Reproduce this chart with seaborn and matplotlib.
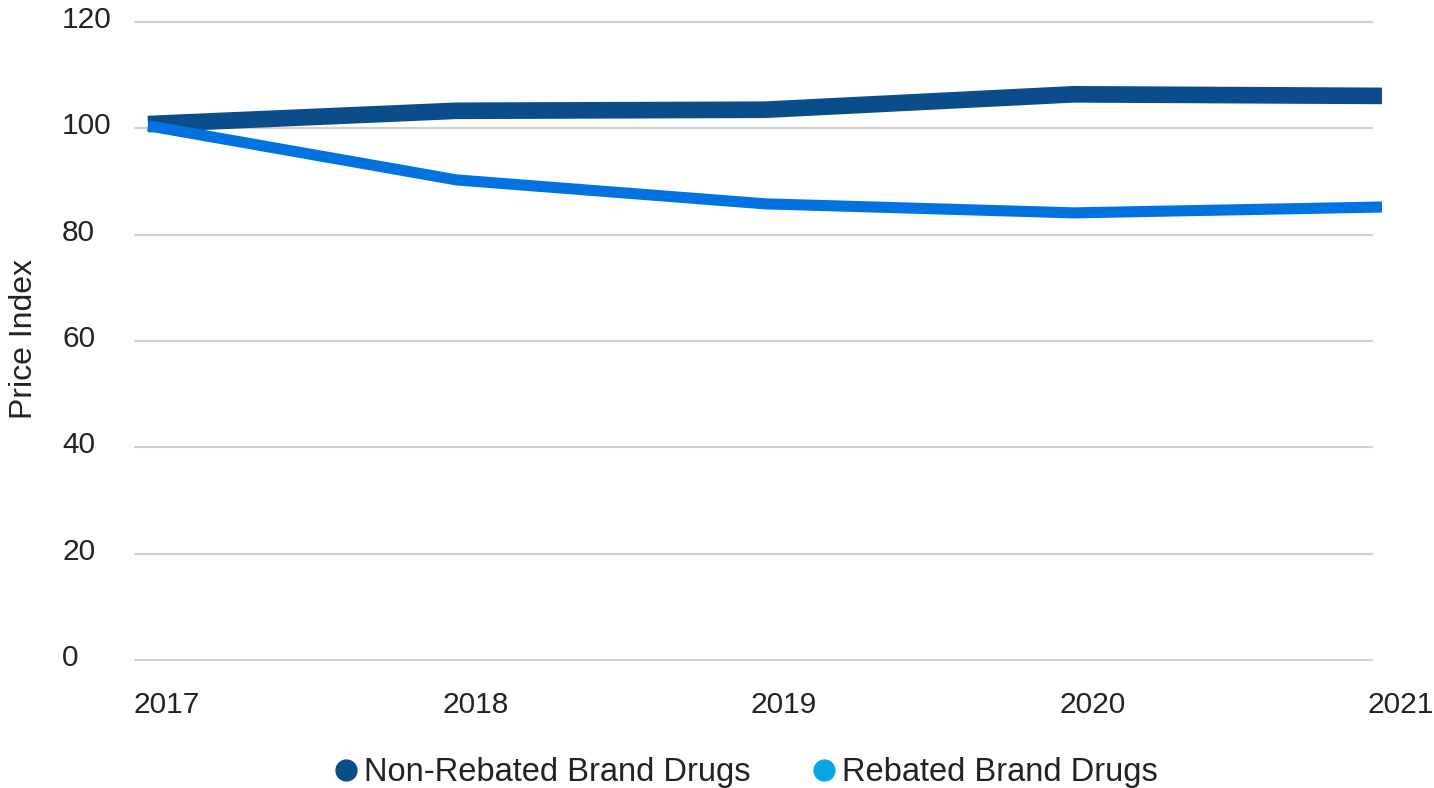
import matplotlib
matplotlib.use("Agg")
import matplotlib.pyplot as plt
import matplotlib.transforms as mtransforms
from matplotlib.lines import Line2D
import seaborn as sns
import pandas as pd

years = [2017, 2018, 2019, 2020, 2021]
non_rebated = [100.8, 103.3, 103.5, 106.4, 106.1]
rebated = [100.5, 90.3, 85.8, 84.1, 85.2]
y_ticks = [0, 20, 40, 60, 80, 100, 120]
series_names = ["Non-Rebated Brand Drugs", "Rebated Brand Drugs"]

line_colors = ["#0B4C8A", "#0073E0"]
legend_colors = ["#0B4C8A", "#0AA5E5"]

sns.set_style("white")
plt.rcParams["font.family"] = ["Liberation Sans", "DejaVu Sans"]

df = pd.DataFrame({
    "year": years * 2,
    "value": non_rebated + rebated,
    "series": [series_names[0]] * len(years) + [series_names[1]] * len(years),
})

fig = plt.figure(figsize=(14.34, 7.88), dpi=100)
W, H = 1434, 788
ax_left, ax_right, grid_right = 135, 1382, 1372
ax = fig.add_axes([ax_left / W, 1 - 660 / H, (ax_right - ax_left) / W, (660 - 22) / H])

widths = [12.0, 8.0]
for name, col, lw in zip(series_names, line_colors, widths):
    sns.lineplot(data=df[df["series"] == name], x="year", y="value", color=col,
                 linewidth=lw, ax=ax, legend=False,
                 solid_capstyle="butt", solid_joinstyle="round", zorder=3)

px_per_year = (1382 - 148) / 4
ax.set_xticks(years)
ax.set_xticklabels([str(y) for y in years])
ax.set_yticks(y_ticks)
ax.set_yticklabels([str(v) for v in y_ticks])
ax.set_xlim(2017 - 13 / px_per_year, 2021)
ax.set_ylim(0, 120)

for s in ax.spines.values():
    s.set_visible(False)
ax.grid(False)
grid_frac = (grid_right - ax_left) / (ax_right - ax_left)
for yv in y_ticks:
    ax.axhline(yv, xmin=0, xmax=grid_frac, color="#D0D0D0", linewidth=1.5, zorder=1, clip_on=False)

ax.tick_params(axis="y", length=0, pad=52.5, labelsize=21.5, labelcolor="#222222")
ax.tick_params(axis="x", length=0, pad=22.5, labelsize=21.5, labelcolor="#222222")
for lab in ax.get_yticklabels():
    lab.set_horizontalalignment("left")
    lab.set_transform(lab.get_transform() + mtransforms.ScaledTranslation(0, 0.05, fig.dpi_scale_trans))
for lab in ax.get_xticklabels():
    lab.set_transform(lab.get_transform() + mtransforms.ScaledTranslation(0.19, 0, fig.dpi_scale_trans))

ax.set_xlabel("")
ax.set_ylabel("Price Index", fontsize=23, color="#222222")
ax.yaxis.set_label_coords(-(ax_left - 39) / (ax_right - ax_left), (660 - 339) / (660 - 22))

handles = [Line2D([], [], linestyle="none", marker="o", markersize=15,
                  markerfacecolor=c, markeredgecolor=c) for c in legend_colors]
fig.legend(handles, series_names, loc="center", bbox_to_anchor=(744 / W, 1 - 773 / H),
           ncol=2, frameon=False, fontsize=23.5, handletextpad=0.05,
           columnspacing=1.75, handlelength=1.0, labelcolor="#222222")

fig.savefig("out.png", dpi=100)
